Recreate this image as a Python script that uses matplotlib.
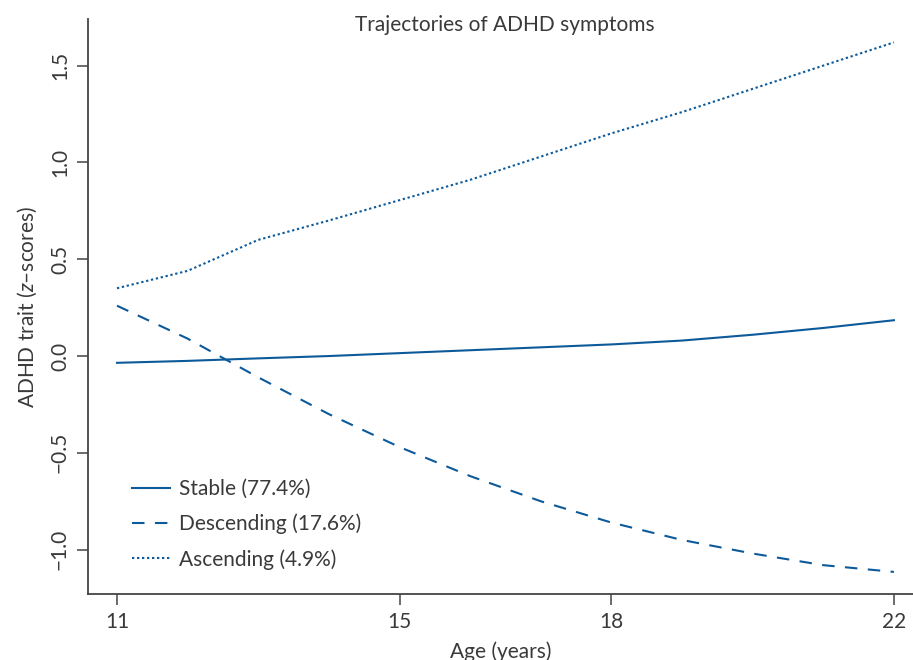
import matplotlib
matplotlib.use("Agg")
import matplotlib.pyplot as plt

plt.rcParams['font.family'] = ['Lato', 'DejaVu Sans']
plt.rcParams['mathtext.fontset'] = 'custom'
plt.rcParams['mathtext.it'] = 'Lato:italic'
plt.rcParams['mathtext.rm'] = 'Lato'

ages = [11, 12, 13, 14, 15, 16, 17, 18, 19, 20, 21, 22]
stable = [-0.035, -0.025, -0.012, 0.0, 0.015, 0.03, 0.045, 0.06, 0.08, 0.11, 0.145, 0.185]
descending = [0.26, 0.09, -0.11, -0.30, -0.47, -0.62, -0.75, -0.86, -0.95, -1.02, -1.08, -1.115]
ascending = [0.35, 0.44, 0.60, 0.70, 0.805, 0.91, 1.03, 1.15, 1.26, 1.38, 1.50, 1.62]
xticks = [11, 15, 18, 22]
yticks = [-1.0, -0.5, 0.0, 0.5, 1.0, 1.5]

col = '#0d5a9a'
txt = '#3a3a3a'

fig = plt.figure(figsize=(9.13, 6.6), dpi=100)
ax = fig.add_axes([0.0964, 0.1, 0.9036, 0.871])

ax.plot(ages, stable, color=col, lw=1.5, label='Stable (77.4%)')
ax.plot(ages, descending, color=col, lw=1.5, dashes=(6, 5), label='Descending (17.6%)')
ax.plot(ages, ascending, color=col, lw=1.5, dashes=(1.1, 1.3), label='Ascending (4.9%)')

ax.set_xlim(10.59, 22.27)
ax.set_ylim(-1.229, 1.74)
ax.set_xticks(xticks)
ax.set_xticklabels([str(t) for t in xticks])
ax.set_yticks(yticks)
ax.set_yticklabels(['\u22121.0', '\u22120.5', '0.0', '0.5', '1.0', '1.5'], rotation=90, va='center')

for s in ['top', 'right']:
    ax.spines[s].set_visible(False)
for s in ['left', 'bottom']:
    ax.spines[s].set_color('#444444')
    ax.spines[s].set_linewidth(1.3)
ax.tick_params(direction='out', length=8, width=1.1, color='#444444',
               labelsize=15, labelcolor=txt, pad=5)

ax.set_xlabel('Age (years)', fontsize=15, color=txt, labelpad=7)
ax.set_ylabel('ADHD trait ($\\mathit{z}$\u2013scores)', fontsize=15, color=txt, labelpad=8)
ax.text(0.505, 0.99, 'Trajectories of ADHD symptoms', transform=ax.transAxes,
        ha='center', va='center', fontsize=15, color=txt)

leg = ax.legend(loc='lower left', bbox_to_anchor=(0.03, 0.01), frameon=False,
                fontsize=15, handlelength=1.85, handletextpad=0.45, labelspacing=0.7,
                labelcolor=txt)

fig.savefig('out.png', dpi=100)
